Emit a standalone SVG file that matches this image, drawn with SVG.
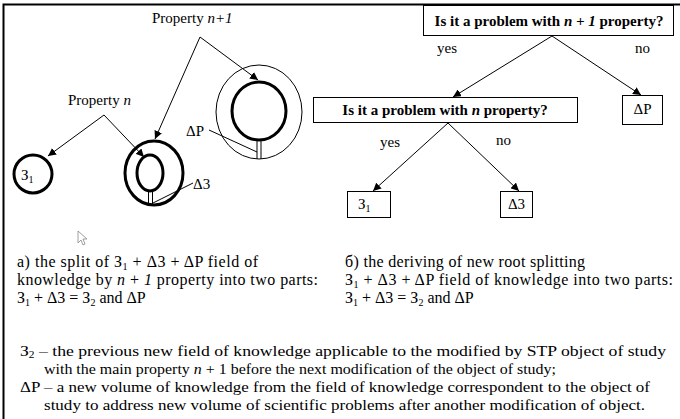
<svg xmlns="http://www.w3.org/2000/svg" width="680" height="419" viewBox="0 0 680 419">
<defs>
<marker id="ah" viewBox="0 0 10 10" refX="10" refY="5" markerWidth="8" markerHeight="8" markerUnits="userSpaceOnUse" orient="auto">
<path d="M0,0 L10,5 L0,10 z" fill="#000"/>
</marker>
</defs>
<style>
text{font-family:"Liberation Serif","Times New Roman",serif;fill:#000}
.lbl{font-size:15px}
.q{font-size:15px;font-weight:bold}
.t{font-size:16px}
.b{font-size:15.5px}
.it{font-style:italic}
.conn{fill:none;stroke:#000;stroke-width:1}
.arr{fill:none;stroke:#000;stroke-width:1;marker-end:url(#ah)}
.thick{fill:none;stroke:#000;stroke-width:3}
.thin{fill:none;stroke:#000;stroke-width:1}
.box{fill:#fff;stroke:#000;stroke-width:1}
</style>
<rect width="680" height="419" fill="#fff"/>
<path d="M3.5,419 V4.5 H680" fill="none" stroke="#000" stroke-width="2"/>

<g id="label-property-n1"><text class="lbl" x="152" y="23">Property <tspan class="it">n+1</tspan></text></g>
<g id="label-property-n"><text class="lbl" x="68" y="105">Property <tspan class="it">n</tspan></text></g>

<g id="circle-z1">
<circle class="thick" cx="33" cy="174" r="19"/>
<text class="lbl" x="21" y="180">З<tspan font-size="10" dy="3">1</tspan></text>
</g>

<g id="circle-middle">
<ellipse class="thick" cx="154" cy="173" rx="29" ry="32"/>
<ellipse class="thick" cx="150" cy="173" rx="13" ry="18"/>
<line class="thin" x1="148.5" y1="191" x2="148.5" y2="205"/>
<line class="thin" x1="152.5" y1="191" x2="152.5" y2="205"/>
</g>
<g id="label-d3"><text class="lbl" x="193" y="189">Δ3</text></g>

<g id="circle-right">
<ellipse class="thin" cx="259" cy="112" rx="43" ry="47"/>
<ellipse class="thick" cx="259" cy="111" rx="27" ry="29"/>
<line class="thin" x1="257" y1="140" x2="257" y2="159"/>
<line class="thin" x1="261" y1="140" x2="261" y2="159"/>
</g>
<g id="label-dp"><text class="lbl" x="186" y="136">ΔP</text></g>

<g id="q1">
<rect class="box" x="423.5" y="5.5" width="250" height="30"/>
<text class="q" x="549" y="26" text-anchor="middle">Is it a problem with <tspan class="it">n + 1</tspan> property?</text>
</g>
<g id="q2">
<rect class="box" x="313.5" y="97.5" width="264" height="25"/>
<text class="q" x="445" y="115" text-anchor="middle">Is it a problem with <tspan class="it">n</tspan> property?</text>
</g>
<g id="box-dp">
<rect class="box" x="622.5" y="95.5" width="40" height="29"/>
<text class="lbl" x="642.5" y="114" text-anchor="middle">ΔP</text>
</g>
<g id="box-z1">
<rect class="box" x="347.5" y="191.5" width="43" height="26"/>
<text class="lbl" x="358" y="209">З<tspan font-size="10" dy="3">1</tspan></text>
</g>
<g id="box-d3">
<rect class="box" x="500.5" y="191.5" width="32" height="26"/>
<text class="lbl" x="516.5" y="209" text-anchor="middle">Δ3</text>
</g>
<g id="edge-labels">
<text class="lbl" x="437" y="53">yes</text>
<text class="lbl" x="635" y="53">no</text>
<text class="lbl" x="380" y="147">yes</text>
<text class="lbl" x="496" y="145">no</text>
</g>

<g id="connectors">
<path class="conn" d="M200,37 L258,80" marker-end="url(#ah)"/>
<path class="conn" d="M200,37 L155,139" marker-end="url(#ah)"/>
<path class="conn" d="M104,115 L48,156" marker-end="url(#ah)"/>
<path class="conn" d="M104,115 L144,157" marker-end="url(#ah)"/>
<line class="thin" x1="193" y1="183" x2="153" y2="203"/>
<line class="thin" x1="209" y1="130" x2="257" y2="152"/>
<path class="arr" d="M552,36 L453,97"/>
<path class="arr" d="M552,36 L641,95"/>
<path class="arr" d="M448,123 L373,191"/>
<path class="arr" d="M448,123 L519,191"/>
</g>

<path d="M78,231 L78,243 L81,240 L83,245 L85,244 L83,239 L87,239 Z" fill="#fff" stroke="#888" stroke-width="0.8"/>

<g id="caption-a">
<text class="t" x="17" y="267" textLength="241" lengthAdjust="spacing">a) the split of З<tspan font-size="10" dy="3">1</tspan><tspan dy="-3"> + Δ3 + ΔP field of</tspan></text>
<text class="t" x="17" y="285" textLength="301" lengthAdjust="spacing">knowledge by <tspan class="it">n</tspan> + <tspan class="it">1</tspan> property into two parts:</text>
<text class="t" x="17" y="303">З<tspan font-size="10" dy="3">1</tspan><tspan dy="-3"> + Δ3 = З</tspan><tspan font-size="10" dy="3">2</tspan><tspan dy="-3"> and ΔP</tspan></text>
</g>
<g id="caption-b">
<text class="t" x="345" y="267" textLength="240" lengthAdjust="spacing">б) the deriving of new root splitting</text>
<text class="t" x="345" y="285" textLength="328" lengthAdjust="spacing">З<tspan font-size="10" dy="3">1</tspan><tspan dy="-3"> + Δ3 + ΔP field of knowledge into two parts:</tspan></text>
<text class="t" x="345" y="303">З<tspan font-size="10" dy="3">1</tspan><tspan dy="-3"> + Δ3 = З</tspan><tspan font-size="10" dy="3">2</tspan><tspan dy="-3"> and ΔP</tspan></text>
</g>
<g id="legend">
<text class="b" x="20" y="356" textLength="646" lengthAdjust="spacingAndGlyphs">З<tspan font-size="10" dy="2">2</tspan><tspan dy="-2"> – the previous new field of knowledge applicable to the modified by STP object of study</tspan></text>
<text class="b" x="44" y="374" textLength="512" lengthAdjust="spacingAndGlyphs">with the main property <tspan class="it">n</tspan> + 1 before the next modification of the object of study;</text>
<text class="b" x="20" y="392" textLength="630" lengthAdjust="spacingAndGlyphs">ΔP – a new volume of knowledge from the field of knowledge correspondent to the object of</text>
<text class="b" x="44" y="410" textLength="601" lengthAdjust="spacingAndGlyphs">study to address new volume of scientific problems after another modification of object.</text>
</g>
</svg>
